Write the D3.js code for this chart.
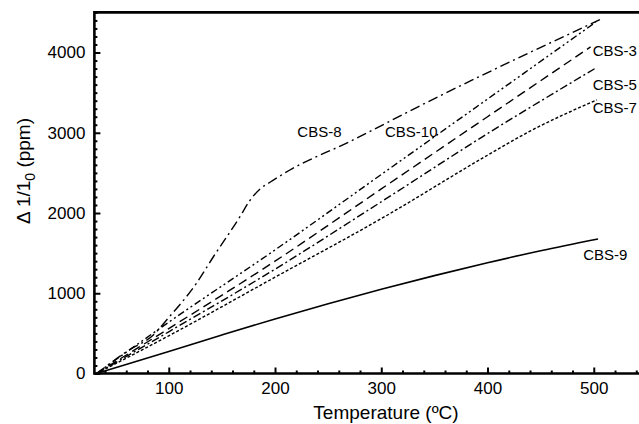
<!DOCTYPE html>
<html><head><meta charset="utf-8">
<script src="https://cdn.jsdelivr.net/npm/d3@7"></script>
<style>
body{margin:0;background:#fff}
svg{display:block}
text{font-family:"Liberation Sans",Arial,Helvetica,sans-serif;fill:#000}
</style>
</head><body>
<svg id="c" width="639" height="424"></svg>
<script>
// ---- data ----
const seriesNames = ["CBS-3", "CBS-5", "CBS-7", "CBS-8", "CBS-9", "CBS-10"];

const tempsCBS3 = [32, 100, 200, 300, 400, 497];
const valsCBS3  = [0, 560, 1400, 2300, 3200, 4070];

const tempsCBS5 = [32, 100, 200, 300, 400, 501];
const valsCBS5  = [0, 520, 1300, 2140, 2990, 3800];

const tempsCBS7 = [32, 100, 200, 300, 400, 440, 503];
const valsCBS7  = [0, 470, 1200, 1930, 2720, 3020, 3410];

const tempsCBS8 = [32, 60, 87, 98, 126, 142, 167, 176, 186, 196, 214, 270, 340, 509];
const valsCBS8  = [0, 270, 500, 667, 1124, 1455, 1954, 2150, 2300, 2390, 2536, 2888, 3360, 4430];

const tempsCBS9 = [32, 100, 150, 200, 250, 300, 350, 400, 450, 504];
const valsCBS9  = [0, 275, 480, 680, 870, 1050, 1220, 1380, 1530, 1676];

const tempsCBS10 = [32, 100, 200, 300, 400, 502];
const valsCBS10  = [0, 640, 1540, 2480, 3420, 4380];

const xMajorTicks = [100, 200, 300, 400, 500];
const yMajorTicks = [0, 1000, 2000, 3000, 4000];

// label anchor points in data units [temperature, value]
const labelT = [499, 499, 499, 221, 490, 303.5];
const labelV = [3956, 3533, 3246, 2947, 1414, 2947];

// ---- styles ----
const dashes = ["9,5", "8,3,2,3", "3,2", "10,4,2,4", null, "7,3,2,3,2,3"];

const temps = [tempsCBS3, tempsCBS5, tempsCBS7, tempsCBS8, tempsCBS9, tempsCBS10];
const vals  = [valsCBS3, valsCBS5, valsCBS7, valsCBS8, valsCBS9, valsCBS10];

const svg = d3.select("#c");
const x = d3.scaleLinear().domain([30, 550]).range([94.4, 94.4 + 520 * 1.0625]);
const y = d3.scaleLinear().domain([0, 4500]).range([373.5, 12.4]);

// lines
const line = d3.line().x(d => x(d[0])).y(d => y(d[1])).curve(d3.curveMonotoneX);
seriesNames.forEach((name, i) => {
  const pts = temps[i].map((t, j) => [t, vals[i][j]]);
  svg.append("path")
    .attr("d", line(pts))
    .attr("fill", "none")
    .attr("stroke", "#000")
    .attr("stroke-width", name === "CBS-9" ? 1.6 : 1.4)
    .attr("stroke-dasharray", dashes[i]);
  svg.append("text")
    .attr("x", x(labelT[i]))
    .attr("y", y(labelV[i]))
    .attr("font-size", 15)
    .text(name);
});

// axes: minor ticks
const xMinor = d3.range(40, 560, 20).filter(v => v % 100 !== 0);
const yMinor = d3.range(100, 4600, 100).filter(v => v % 1000 !== 0);

const gxMinor = svg.append("g").attr("transform", `translate(0,${y(0)})`)
  .call(d3.axisBottom(x).tickValues(xMinor).tickSize(-3).tickFormat(""));
const gxMajor = svg.append("g").attr("transform", `translate(0,${y(0)})`)
  .call(d3.axisBottom(x).tickValues(xMajorTicks).tickSize(-6).tickPadding(8).tickFormat(d3.format("d")));
const gyMinor = svg.append("g").attr("transform", `translate(${x(30)},0)`)
  .call(d3.axisLeft(y).tickValues(yMinor).tickSize(-3).tickFormat(""));
const gyMajor = svg.append("g").attr("transform", `translate(${x(30)},0)`)
  .call(d3.axisLeft(y).tickValues(yMajorTicks).tickSize(-6).tickPadding(9).tickFormat(d3.format("d")));

[gxMinor, gxMajor, gyMinor, gyMajor].forEach(g => {
  g.select(".domain").remove();
  g.selectAll(".tick line").attr("stroke", "#000").attr("stroke-width", 2);
  g.selectAll(".tick text").attr("font-size", 17).attr("fill", "#000");
});
gxMajor.selectAll(".tick text").attr("dy", "0.71em");

// frame lines
svg.append("line").attr("x1", x(30)).attr("x2", 639).attr("y1", y(0)).attr("y2", y(0))
  .attr("stroke", "#000").attr("stroke-width", 2.6);
svg.append("line").attr("x1", x(30)).attr("x2", x(30)).attr("y1", y(4500) - 1.3).attr("y2", y(0) + 1.3)
  .attr("stroke", "#000").attr("stroke-width", 2.6);
svg.append("line").attr("x1", x(30)).attr("x2", 639).attr("y1", y(4500)).attr("y2", y(4500))
  .attr("stroke", "#000").attr("stroke-width", 2.6);

// axis titles
svg.append("text")
  .attr("x", 386).attr("y", 419)
  .attr("text-anchor", "middle")
  .attr("font-size", 19)
  .text("Temperature (\u00BAC)");

const yl = svg.append("text")
  .attr("transform", "translate(30,171) rotate(-90)")
  .attr("text-anchor", "middle")
  .attr("font-size", 19);
yl.append("tspan").text("\u0394 1/1");
yl.append("tspan").attr("font-size", 14).attr("dy", 5).text("0");
yl.append("tspan").attr("dy", -5).text(" (ppm)");
</script>
</body></html>
